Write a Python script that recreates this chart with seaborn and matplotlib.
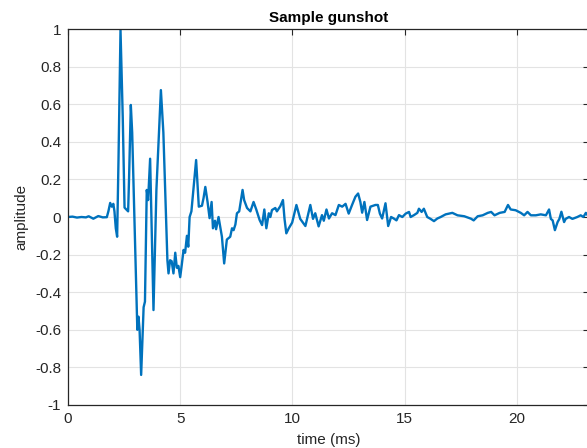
import matplotlib
matplotlib.use("Agg")
import matplotlib.pyplot as plt
import seaborn as sns
import pandas as pd

# time (ms) and amplitude
time_ms = [0.00, 0.20, 0.40, 0.60, 0.80, 0.92, 1.13, 1.35, 1.55, 1.73, 1.80, 1.88, 1.95, 2.02, 2.07,
           2.13, 2.19, 2.25, 2.34, 2.44, 2.52, 2.60, 2.68, 2.72, 2.80, 2.86, 2.96, 3.09, 3.14, 3.19,
           3.26, 3.37, 3.43, 3.51, 3.57, 3.66, 3.70, 3.81, 3.94, 4.14, 4.25, 4.43, 4.48, 4.55, 4.62,
           4.70, 4.78, 4.85, 4.92, 5.00, 5.07, 5.15, 5.22, 5.30, 5.36, 5.42, 5.50, 5.71, 5.83, 5.97,
           6.04, 6.12, 6.22, 6.31, 6.40, 6.46, 6.55, 6.60, 6.71, 6.86, 6.96, 7.08, 7.23, 7.31, 7.38,
           7.46, 7.53, 7.63, 7.78, 7.85, 7.98, 8.13, 8.27, 8.39, 8.54, 8.65, 8.75, 8.84, 8.95, 9.02,
           9.09, 9.24, 9.31, 9.46, 9.58, 9.65, 9.73, 9.84, 9.99, 10.18, 10.35, 10.58, 10.80, 10.92,
           11.02, 11.17, 11.32, 11.40, 11.52, 11.63, 11.77, 11.92, 12.07, 12.22, 12.37, 12.51, 12.66,
           12.81, 12.93, 13.03, 13.11, 13.21, 13.33, 13.48, 13.70, 13.81, 13.90, 14.00, 14.15, 14.27,
           14.40, 14.52, 14.64, 14.75, 14.90, 15.05, 15.20, 15.27, 15.42, 15.57, 15.64, 15.76, 15.86,
           16.01, 16.16, 16.31, 16.46, 16.61, 16.83, 17.13, 17.36, 17.66, 17.96, 18.08, 18.26, 18.48,
           18.71, 18.86, 19.01, 19.24, 19.46, 19.61, 19.73, 19.95, 20.18, 20.33, 20.48, 20.63, 20.85,
           21.07, 21.30, 21.44, 21.52, 21.60, 21.70, 21.82, 21.90, 21.99, 22.11, 22.18, 22.33, 22.48,
           22.70, 22.85, 22.97, 23.08, 23.22]

amplitude = [0.000, 0.002, -0.003, 0.000, -0.002, 0.004, -0.009, 0.005, -0.002, -0.001, 0.030, 0.075,
             0.055, 0.070, 0.030, -0.060, -0.105, 0.300, 0.995, 0.530, 0.050, 0.040, 0.030, 0.200,
             0.596, 0.450, 0.000, -0.600, -0.530, -0.600, -0.840, -0.480, -0.450, 0.144, 0.090, 0.310,
             0.090, -0.495, 0.144, 0.675, 0.450, -0.230, -0.300, -0.230, -0.235, -0.300, -0.190,
             -0.270, -0.260, -0.320, -0.255, -0.175, -0.190, -0.100, -0.158, 0.000, 0.030, 0.303,
             0.055, 0.060, 0.100, 0.160, 0.080, -0.006, 0.080, -0.060, -0.020, -0.065, 0.000, -0.105,
             -0.247, -0.120, -0.105, -0.060, -0.070, -0.040, 0.020, 0.030, 0.144, 0.090, 0.048, 0.030,
             0.080, 0.040, -0.016, -0.043, 0.040, -0.060, 0.020, 0.000, 0.037, 0.048, 0.030, 0.057,
             0.090, -0.010, -0.087, -0.060, -0.030, 0.064, -0.010, -0.048, 0.064, -0.010, 0.020,
             -0.050, 0.010, -0.020, 0.040, -0.008, 0.020, 0.010, 0.064, 0.055, 0.070, 0.018, 0.064,
             0.108, 0.125, 0.080, 0.023, 0.080, -0.016, 0.055, 0.064, 0.064, 0.018, -0.008, 0.073,
             -0.048, 0.000, -0.008, -0.018, 0.010, 0.000, 0.018, 0.027, 0.000, 0.010, 0.022, 0.044,
             0.027, 0.044, 0.000, -0.010, -0.022, -0.008, 0.000, 0.014, 0.022, 0.009, 0.004, -0.009,
             -0.018, 0.004, 0.009, 0.022, 0.027, 0.009, 0.022, 0.027, 0.064, 0.040, 0.036, 0.022,
             0.009, 0.027, 0.009, 0.009, 0.014, 0.009, 0.040, -0.010, -0.018, -0.070, -0.027, -0.010,
             0.028, -0.027, -0.010, 0.000, -0.010, 0.000, 0.009, 0.000, 0.022, 0.000]

x_ticks = [0, 5, 10, 15, 20]
y_ticks = [-1, -0.8, -0.6, -0.4, -0.2, 0, 0.2, 0.4, 0.6, 0.8, 1]
y_tick_labels = ["-1", "-0.8", "-0.6", "-0.4", "-0.2", "0", "0.2", "0.4", "0.6", "0.8", "1"]

df = pd.DataFrame({"time": time_ms, "amplitude": amplitude})

sns.set_style("white")
plt.rcParams["font.family"] = ["Liberation Sans", "DejaVu Sans"]

fig = plt.figure(figsize=(5.87, 4.48), dpi=100)
ax = fig.add_axes([68 / 587, 1 - 405 / 448, 521 / 587, 376 / 448])

sns.lineplot(data=df, x="time", y="amplitude", ax=ax, color="#0072BD", linewidth=1.7,
             sort=False, estimator=None)

ax.set_xlim(0, 23.22)
ax.set_ylim(-1, 1)
ax.set_xticks(x_ticks)
ax.set_xticklabels([str(v) for v in x_ticks])
ax.set_yticks(y_ticks)
ax.set_yticklabels(y_tick_labels)
ax.grid(True, color="#e3e3e3", linewidth=0.8)
ax.set_axisbelow(True)
for s in ax.spines.values():
    s.set_color("#262626")
    s.set_linewidth(0.9)
ax.tick_params(direction="in", length=4, width=0.8, colors="#262626", labelsize=11,
               top=True, right=True, labelcolor="#262626", pad=5)
ax.set_xlabel("time (ms)", fontsize=11, color="#262626", labelpad=5)
ax.set_ylabel("amplitude", fontsize=11, color="#262626", labelpad=5)
ax.set_title("Sample gunshot", fontsize=11, fontweight="bold", color="black", pad=5)

fig.savefig("out.png", dpi=100)
